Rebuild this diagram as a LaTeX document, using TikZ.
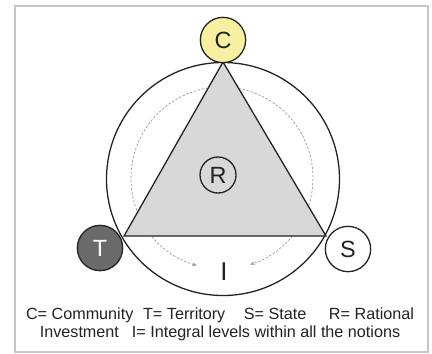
\documentclass[tikz,border=0pt]{standalone}
\usepackage{fontspec}
\setmainfont{Liberation Sans}
\usepackage{xcolor}
\usetikzlibrary{arrows.meta,positioning}

\definecolor{commyellow}{HTML}{F6F0A0}
\definecolor{terrgray}{HTML}{6A6A6A}
\definecolor{trigray}{HTML}{D8D8D8}
\definecolor{inkgray}{HTML}{222222}

\begin{document}
\begin{tikzpicture}[
  x=0.03cm, y=-0.03cm,
  notion/.style={circle, draw=inkgray, line width=1.1pt, minimum size=1.36cm,
                 inner sep=0pt, font=\fontsize{20}{20}\selectfont, text=inkgray},
  edge/.style={draw=inkgray, line width=1.1pt},
  cycarr/.style={{Stealth[length=4pt]}-{Stealth[length=4pt]}, gray!80,
                 dash pattern=on 2pt off 1.5pt, line width=0.6pt},
  legend/.style={font=\fontsize{13.8}{15.6}\selectfont, text=inkgray, align=center}
]

%% Frame
\useasboundingbox (0,0) rectangle (432,353);
\draw[gray!45, line width=1.2pt] (15,6) rectangle (428,352);

%% Corners of the triangle
\coordinate (mid) at (223,179);
\coordinate (cv) at (223,62);
\coordinate (tv) at (124,236);
\coordinate (sv) at (326,236);

%% Outer circle and dashed cycle
\draw[edge] (mid) circle (116.5);
\draw[cycarr] ([shift={(106:91)}]222,178) arc (106:432:91);

%% Triangle
\filldraw[edge, fill=trigray] (cv) -- (tv) -- (sv) -- cycle;

%% Notions
\node[notion, fill=commyellow] (comm) at (223,40) {C};
\node[notion, fill=terrgray, text=white] (terr) at (100,248) {T};
\node[notion, fill=white] (state) at (348,249) {S};
\node[notion, minimum size=1.08cm, fill=none] (rat) at (218,175) {R};
\node[font=\fontsize{22}{22}\selectfont, text=inkgray] (integ) at (224,272) {I};

%% Legend
\node[legend] (key) at (220,324)
  {C= Community\hspace{0.6em}T= Territory\hspace{1.15em}S= State\hspace{1.4em}R= Rational\\
   Investment\hspace{0.8em}I= Integral levels within all the notions};

\end{tikzpicture}
\end{document}
